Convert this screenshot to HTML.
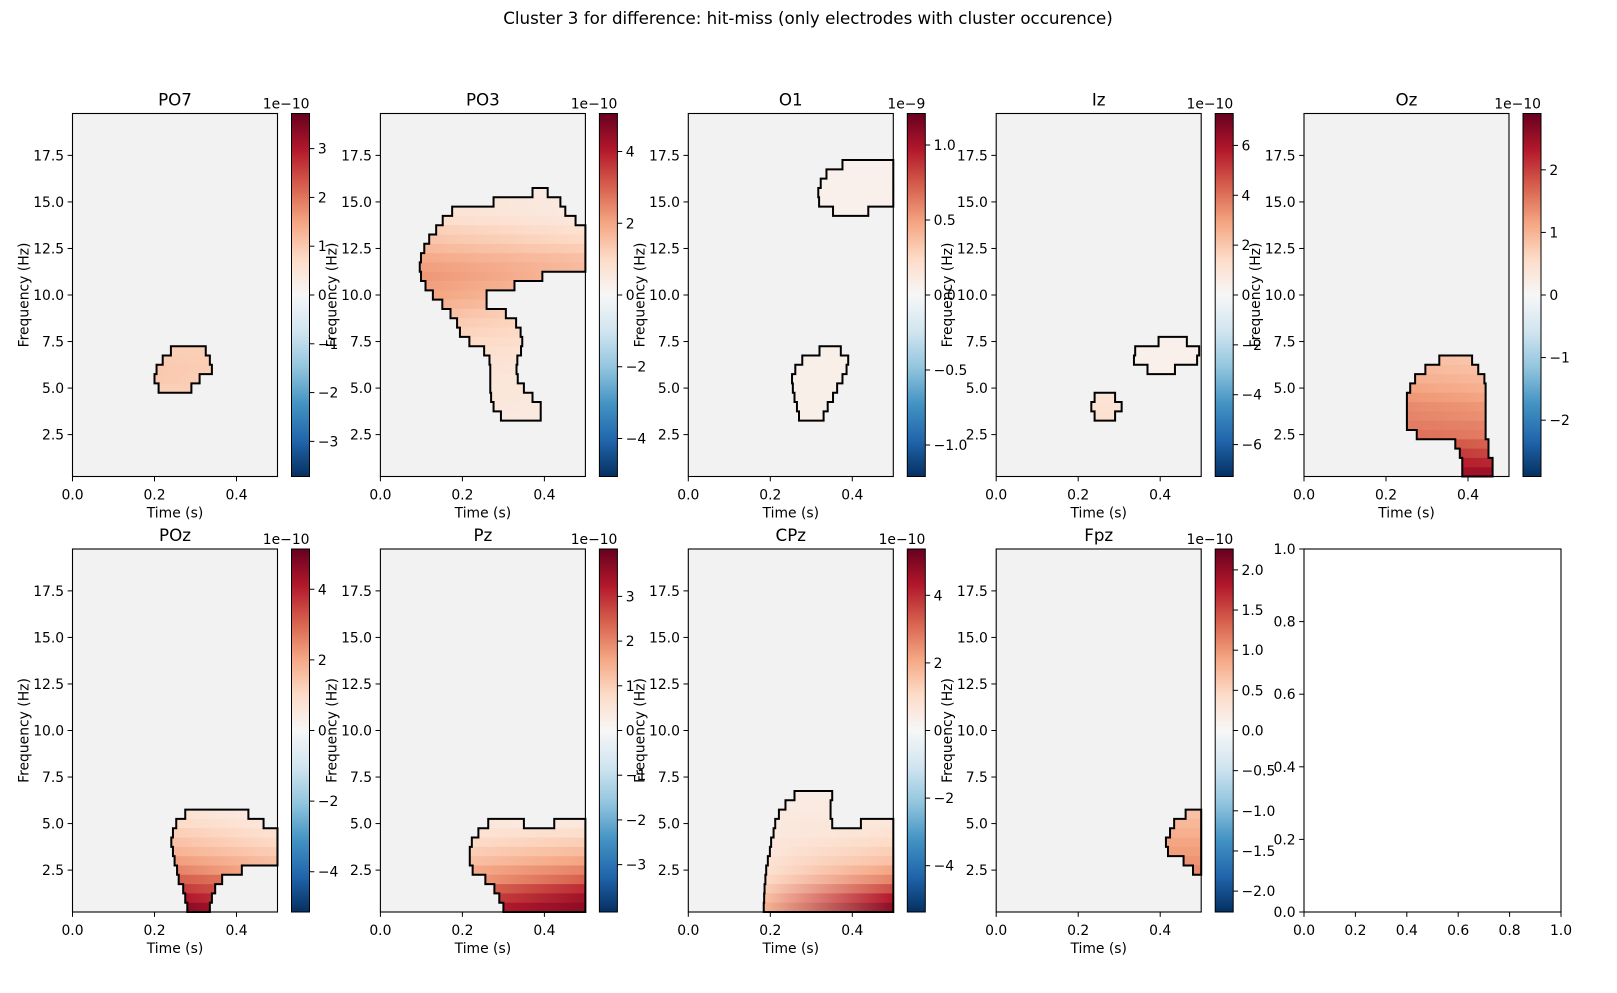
<!DOCTYPE html>
<html><head><meta charset="utf-8">
<style>
html,body{margin:0;padding:0;background:#fff;}
svg{display:block;font-family:"DejaVu Sans","Liberation Sans",sans-serif;}
</style></head>
<body>
<svg id="fig" width="1617" height="993" viewBox="0 0 1617 993" xmlns="http://www.w3.org/2000/svg">
<rect x="0" y="0" width="1617" height="993" fill="#ffffff"/>
<text x="808" y="24" font-size="16.7" text-anchor="middle" fill="#000">Cluster 3 for difference: hit-miss (only electrodes with cluster occurence)</text>
<defs>
<linearGradient id="cbgrad" x1="0" y1="0" x2="0" y2="1">
<stop offset="0" stop-color="#67001f"/><stop offset="0.1" stop-color="#b2182b"/><stop offset="0.2" stop-color="#d6604d"/><stop offset="0.3" stop-color="#f4a582"/><stop offset="0.4" stop-color="#fddbc7"/><stop offset="0.5" stop-color="#f7f7f7"/><stop offset="0.6" stop-color="#d1e5f0"/><stop offset="0.7" stop-color="#92c5de"/><stop offset="0.8" stop-color="#4393c3"/><stop offset="0.9" stop-color="#2166ac"/><stop offset="1" stop-color="#053061"/>
</linearGradient>
</defs>
</svg>
<script>
// ---- data ----
const channels = ["PO7","PO3","O1","Iz","Oz","POz","Pz","CPz","Fpz"];
const vmaxes = [3.72,5.06,1.21,7.28,2.9,5.14,4.06,5.37,2.26];
const exponents = ["1e\u221210","1e\u221210","1e\u22129","1e\u221210","1e\u221210","1e\u221210","1e\u221210","1e\u221210","1e\u221210"];
const cbarTicks = [
  [-3,-2,-1,0,1,2,3],[-4,-2,0,2,4],[-1.0,-0.5,0,0.5,1.0],[-6,-4,-2,0,2,4,6],[-2,-1,0,1,2],
  [-4,-2,0,2,4],[-3,-2,-1,0,1,2,3],[-4,-2,0,2,4],[-2.0,-1.5,-1.0,-0.5,0,0.5,1.0,1.5,2.0]
];
const cbarTickDecimals = [0,0,1,0,0,0,0,0,1];
const freqTicks = [2.5,5.0,7.5,10.0,12.5,15.0,17.5];
const timeTicks = [0.0,0.2,0.4];
const clusterTops = [7.25,15.75,17.25,7.75,6.75,5.75,5.25,6.75,5.75];
// rows: [rowIndex, tStart, tEnd, valueLeft, valueRight] (value as fraction of vmax)
const po7Rows = [[0,.24,.325,.25,.25],[1,.22,.335,.26,.25],[2,.205,.34,.27,.25],[3,.2,.31,.27,.25],[4,.21,.29,.25,.25]];
const po3Rows = [[0,.371,.408,.1,.1],[1,.276,.439,.12,.1],[2,.175,.451,.14,.1],[3,.152,.476,.18,.12],[4,.136,.5,.24,.15],
 [5,.119,.5,.28,.2],[6,.107,.5,.33,.25],[7,.099,.5,.38,.3],[8,.096,.5,.42,.32],[9,.099,.395,.44,.35],[10,.11,.327,.42,.35],
 [11,.128,.259,.4,.35],[12,.151,.259,.35,.32],[13,.171,.306,.3,.25],[14,.187,.331,.26,.22],[15,.194,.342,.23,.2],
 [16,.217,.346,.2,.18],[17,.253,.343,.17,.15],[18,.266,.334,.15,.14],[19,.268,.332,.14,.13],[20,.268,.335,.13,.12],
 [21,.268,.35,.12,.12],[22,.27,.371,.12,.11],[23,.276,.391,.11,.1],[24,.294,.391,.1,.1]];
const o1Rows = [[0,.376,.5,.05,.05],[1,.337,.5,.05,.05],[2,.323,.5,.05,.05],[3,.317,.5,.05,.05],[4,.319,.5,.05,.05],[5,.353,.439,.05,.05],
 [20,.32,.372,.06,.06],[21,.278,.39,.06,.06],[22,.261,.386,.06,.06],[23,.253,.376,.06,.06],[24,.255,.363,.06,.06],[25,.259,.353,.06,.06],[26,.265,.34,.06,.06],[27,.27,.33,.06,.06]];
const izRows = [[0,.396,.465,.05,.05],[1,.339,.495,.05,.05],[2,.336,.49,.05,.05],[3,.369,.436,.05,.05],
 [6,.24,.29,.14,.14],[7,.232,.306,.15,.15],[8,.24,.29,.16,.16]];
const ozRows = [[0,.33,.41,.3,.28],[1,.296,.425,.33,.3],[2,.271,.44,.36,.33],[3,.259,.443,.4,.36],[4,.251,.443,.44,.4],
 [5,.251,.443,.48,.44],[6,.251,.443,.5,.46],[7,.251,.443,.52,.5],[8,.275,.443,.55,.52],[9,.369,.45,.62,.6],
 [10,.38,.45,.7,.68],[11,.386,.46,.78,.76],[12,.386,.46,.85,.85]];
const pozRows = [[0,.275,.429,.15,.1],[1,.253,.466,.2,.12],[2,.245,.5,.25,.15],[3,.241,.5,.3,.2],[4,.245,.5,.35,.25],
 [5,.249,.5,.42,.3],[6,.255,.413,.5,.4],[7,.259,.365,.6,.55],[8,.27,.348,.7,.65],[9,.275,.34,.8,.75],[10,.28,.335,.9,.85]];
const pzRows = [[0,.263,.35,.12,.1],[0,.424,.5,.1,.12],[1,.239,.5,.15,.18],[2,.223,.5,.2,.25],[3,.218,.5,.25,.32],
 [4,.218,.5,.3,.4],[5,.225,.5,.38,.5],[6,.256,.5,.45,.6],[7,.278,.5,.6,.75],[8,.29,.5,.7,.85],[9,.3,.5,.8,.9]];
const cpzRows = [[0,.259,.351,.08,.08],[1,.237,.347,.08,.1],[2,.221,.347,.1,.1],[3,.212,.351,.1,.12],[3,.421,.5,.12,.12],
 [4,.208,.5,.1,.15],[5,.202,.5,.12,.2],[6,.199,.5,.12,.25],[7,.194,.5,.15,.3],[8,.19,.5,.15,.4],[9,.188,.5,.2,.5],
 [10,.186,.5,.25,.65],[11,.185,.5,.3,.8],[12,.184,.5,.35,.9]];
const fpzRows = [[0,.462,.5,.3,.3],[1,.434,.5,.33,.33],[2,.424,.5,.36,.36],[3,.414,.5,.4,.4],[4,.419,.5,.42,.42],[5,.457,.5,.45,.45],[6,.48,.5,.48,.48]];
const allRows = [po7Rows,po3Rows,o1Rows,izRows,ozRows,pozRows,pzRows,cpzRows,fpzRows];
const emptyTicks = [0.0,0.2,0.4,0.6,0.8,1.0];

// ---- layout ----
const NS = "http://www.w3.org/2000/svg";
const svg = document.getElementById('fig');
const colLeft = [72.5,380.4,688.3,996.2,1304];
const rowTop = [113.5,549];
const AW = 205, AH = 363, TL = 4.86, FS = 13.9;
const FMIN = 0.25, FMAX = 19.75, TMAX = 0.5, ROWH = 0.5;
const stops = [[0,[247,247,247]],[0.2,[253,219,199]],[0.4,[244,165,130]],[0.6,[214,96,77]],[0.8,[178,24,43]],[1,[103,0,31]]];
const nstops = [[0,[247,247,247]],[0.2,[209,229,240]],[0.4,[146,197,222]],[0.6,[67,147,195]],[0.8,[33,102,172]],[1,[5,48,97]]];
function cmap(v){
  const s = v>=0?stops:nstops; let a=Math.min(1,Math.abs(v));
  for(let i=1;i<s.length;i++){ if(a<=s[i][0]){const p=(a-s[i-1][0])/(s[i][0]-s[i-1][0]);
    const c=s[i-1][1].map((x,k)=>Math.round(x+(s[i][1][k]-x)*p)); return `rgb(${c[0]},${c[1]},${c[2]})`;}}
  return 'rgb(103,0,31)';
}
function mk(tag, attrs, parent){const e=document.createElementNS(NS,tag);for(const k in attrs)e.setAttribute(k,attrs[k]);(parent||svg).appendChild(e);return e;}
function txt(s, attrs, parent){const e=mk('text',attrs,parent);e.textContent=s;return e;}
function fmt(v,d){const s=v.toFixed(d);return s.replace('-','\u2212');}
function subtract(a0,a1,ints){let segs=[[a0,a1]];for(const [b0,b1] of ints){const n=[];for(const [s0,s1] of segs){if(b1<=s0||b0>=s1){n.push([s0,s1]);continue;}if(b0>s0)n.push([s0,b0]);if(b1<s1)n.push([b1,s1]);}segs=n;}return segs.filter(s=>s[1]-s[0]>1e-6);}

channels.forEach((name,i)=>{
  const x0 = colLeft[i%5], y0 = rowTop[Math.floor(i/5)];
  const xs = t => x0 + t/TMAX*AW;
  const ys = f => y0 + (FMAX-f)/(FMAX-FMIN)*AH;
  const g = mk('g',{});
  
  
  const bg = mk('rect',{x:x0,y:y0,width:AW,height:AH,fill:'#f2f2f2'},g);
  
  
  const rows = allRows[i], top = clusterTops[i], vmax = vmaxes[i];
  const cg = mk('g',{},g);
  
  
  rows.forEach((r,j)=>{
    const fHi = top - r[0]*ROWH, fLo = fHi-ROWH;
    let fill;
    if(r[3]===r[4]) fill = cmap(r[3]);
    else { const gid='g'+i+'_'+j; const lg=mk('linearGradient',{id:gid,x1:0,y1:0,x2:1,y2:0},cg);
      mk('stop',{offset:0,'stop-color':cmap(r[3])},lg); mk('stop',{offset:1,'stop-color':cmap(r[4])},lg); fill='url(#'+gid+')'; }
    const c = mk('rect',{x:xs(r[1]),y:ys(fHi),width:xs(r[2])-xs(r[1])+0.3,height:ys(fLo)-ys(fHi)+0.3,fill:fill},cg);
    
    
  });
  let d='';
  rows.forEach(r=>{
    const fHi = top - r[0]*ROWH, fLo = fHi-ROWH;
    d += `M${xs(r[1])},${ys(fHi)}V${ys(fLo)}M${xs(r[2])},${ys(fHi)}V${ys(fLo)}`;
    const above = rows.filter(q=>q[0]===r[0]-1).map(q=>[q[1],q[2]]);
    const below = rows.filter(q=>q[0]===r[0]+1).map(q=>[q[1],q[2]]);
    subtract(r[1],r[2],above).forEach(s=>{d+=`M${xs(s[0])},${ys(fHi)}H${xs(s[1])}`;});
    subtract(r[1],r[2],below).forEach(s=>{d+=`M${xs(s[0])},${ys(fLo)}H${xs(s[1])}`;});
  });
  const ol = mk('path',{d:d,stroke:'#000','stroke-width':2,fill:'none','stroke-linecap':'square'},g);
  
  
  mk('rect',{x:x0,y:y0,width:AW,height:AH,fill:'none',stroke:'#000','stroke-width':1.1},g);
  freqTicks.forEach(f=>{const y=ys(f);mk('line',{x1:x0-TL,x2:x0,y1:y,y2:y,stroke:'#000','stroke-width':1},g);
    const t=txt(f.toFixed(1),{x:x0-TL-3.5,y:y+5,'font-size':FS,'text-anchor':'end'},g);
    
    });
  timeTicks.forEach(tv=>{const x=xs(tv);mk('line',{x1:x,x2:x,y1:y0+AH,y2:y0+AH+TL,stroke:'#000','stroke-width':1},g);
    const t=txt(tv.toFixed(1),{x:x,y:y0+AH+23,'font-size':FS,'text-anchor':'middle'},g);
    
    });
  const xl=txt('Time (s)',{x:x0+AW/2,y:y0+AH+41,'font-size':FS,'text-anchor':'middle'},g);
  
  
  const yl=txt('Frequency (Hz)',{x:0,y:0,'font-size':FS,'text-anchor':'middle',transform:`translate(${x0-44},${y0+AH/2}) rotate(-90)`},g);
  
  
  const ti=txt(name,{x:x0+AW/2,y:y0-8,'font-size':16.7,'text-anchor':'middle'},g);
  
  
  const cx = x0+219, cw = 18;
  const cb = mk('rect',{x:cx,y:y0,width:cw,height:AH,fill:'url(#cbgrad)',stroke:'#000','stroke-width':1},g);
  
  
  const cys = v => y0 + AH/2 - v/vmax*AH/2;
  cbarTicks[i].forEach(v=>{const y=cys(v);mk('line',{x1:cx+cw,x2:cx+cw+TL,y1:y,y2:y,stroke:'#000','stroke-width':1},g);
    const t=txt(fmt(v,cbarTickDecimals[i]),{x:cx+cw+TL+3.5,y:y+5,'font-size':FS},g);
    
    });
  const ex=txt(exponents[i],{x:cx+cw,y:y0-5,'font-size':FS,'text-anchor':'end'},g);
  
  
});

(function(){
  const x0=1304,y0=549,w=257,h=363;
  const g=mk('g',{});
  
  
  mk('rect',{x:x0,y:y0,width:w,height:h,fill:'#fff',stroke:'#000','stroke-width':1.1},g);
  emptyTicks.forEach(v=>{
    const x=x0+v*w, y=y0+h-v*h;
    mk('line',{x1:x,x2:x,y1:y0+h,y2:y0+h+TL,stroke:'#000','stroke-width':1},g);
    const a=txt(v.toFixed(1),{x:x,y:y0+h+23,'font-size':FS,'text-anchor':'middle'},g);
    
    
    mk('line',{x1:x0-TL,x2:x0,y1:y,y2:y,stroke:'#000','stroke-width':1},g);
    const b=txt(v.toFixed(1),{x:x0-TL-3.5,y:y+5,'font-size':FS,'text-anchor':'end'},g);
    
    
  });
})();
</script>
</body></html>
